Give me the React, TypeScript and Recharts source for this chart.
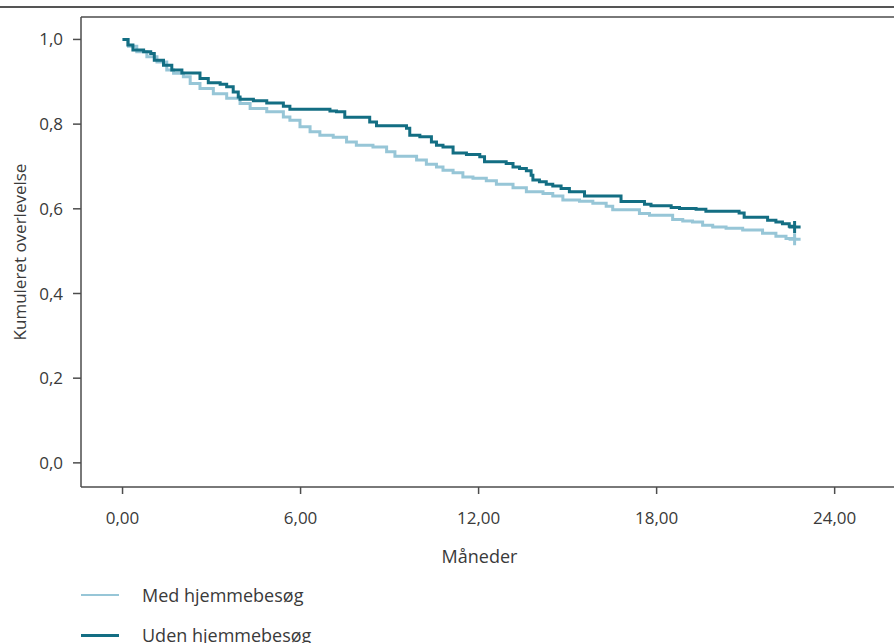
import React from 'react'
import {
  LineChart,
  Line,
  XAxis,
  YAxis,
  ReferenceLine
} from 'recharts'

// Kaplan-Meier steps (months, cumulative survival)
const medTimes = [
  0, 0.2, 0.48, 0.82, 1.16, 1.49, 1.72, 2.05, 2.28, 2.61, 3.06, 3.51, 3.96, 4.3, 4.86,
  5.42, 5.64, 5.98, 6.32, 6.65, 7.1, 7.55, 7.88, 8.44, 8.9, 9.18, 9.91, 10.24, 10.58,
  10.8, 11.14, 11.47, 11.81, 12.26, 12.6, 13.16, 13.61, 14.17, 14.5, 14.84, 15.4, 15.85,
  16.3, 16.52, 17.42, 17.76, 18.54, 18.88, 19.21, 19.55, 19.89, 20.34, 20.9, 21.57,
  22.02, 22.36, 22.65
]
const medSurvival = [
  1.0, 0.984, 0.971, 0.959, 0.947, 0.928, 0.92, 0.912, 0.896, 0.884, 0.872, 0.861, 0.849,
  0.837, 0.829, 0.817, 0.809, 0.794, 0.782, 0.774, 0.769, 0.758, 0.75, 0.746, 0.735,
  0.724, 0.715, 0.705, 0.699, 0.691, 0.685, 0.675, 0.672, 0.666, 0.658, 0.65, 0.64,
  0.636, 0.63, 0.621, 0.618, 0.613, 0.606, 0.598, 0.589, 0.585, 0.575, 0.571, 0.569,
  0.561, 0.557, 0.554, 0.55, 0.542, 0.535, 0.53, 0.528
]

const udenTimes = [
  0, 0.18, 0.35, 0.71, 0.95, 1.07, 1.38, 1.66, 2.0, 2.61, 2.89, 3.29, 3.51, 3.73, 3.9,
  3.96, 4.41, 4.86, 5.42, 5.64, 6.99, 7.21, 7.49, 8.33, 8.56, 9.57, 9.68, 10.02, 10.41,
  10.58, 10.8, 11.14, 11.59, 12.04, 12.2, 12.93, 13.16, 13.38, 13.61, 13.77, 13.83,
  14.05, 14.28, 14.5, 14.78, 15.06, 15.57, 16.8, 17.59, 17.81, 18.49, 18.77, 19.33,
  19.66, 20.78, 20.95, 21.74, 22.02, 22.24, 22.47, 22.65
]
const udenSurvival = [
  1.0, 0.987, 0.975, 0.971, 0.967, 0.951, 0.939, 0.928, 0.921, 0.908, 0.898, 0.894,
  0.888, 0.876, 0.864, 0.859, 0.855, 0.85, 0.842, 0.835, 0.831, 0.829, 0.816, 0.805,
  0.796, 0.79, 0.774, 0.77, 0.758, 0.75, 0.746, 0.732, 0.728, 0.723, 0.711, 0.707,
  0.699, 0.695, 0.69, 0.679, 0.668, 0.664, 0.658, 0.654, 0.648, 0.64, 0.63, 0.617,
  0.611, 0.607, 0.603, 0.601, 0.599, 0.594, 0.59, 0.58, 0.573, 0.569, 0.565, 0.559,
  0.557
]

const xTicks = [0, 6, 12, 18, 24]
const yTicks = [0, 0.2, 0.4, 0.6, 0.8, 1.0]
const seriesNames = ['Med hjemmebesøg', 'Uden hjemmebesøg']

const LIGHT = '#97c6d7'
const DARK = '#136e83'
const AXIS = '#4d4d4d'
const TEXT = '#3a3a3a'
const FONT = '"Open Sans", sans-serif'

const toPoints = (times: number[], values: number[]) =>
  times.map((t, i) => ({ t, s: values[i] }))

const medData = toPoints(medTimes, medSurvival)
const udenData = toPoints(udenTimes, udenSurvival)

// censor mark at the end of each curve
const censorDot = (color: string, last: number) => (props: any) => {
  const { cx, cy, index } = props
  if (index !== last) return <g key={`d-${index}`} />
  return (
    <path
      key={`d-${index}`}
      d={`M${cx - 6},${cy} H${cx + 6} M${cx},${cy - 6} V${cy + 6}`}
      stroke={color}
      strokeWidth={3}
      fill="none"
    />
  )
}

export default function App() {
  return (
    <div
      style={{
        position: 'absolute',
        left: 0,
        top: 0,
        width: 894,
        height: 643,
        background: '#fff',
        overflow: 'hidden',
        fontFamily: FONT
      }}
    >
      {/* rule under the (cropped) heading */}
      <div style={{ position: 'absolute', left: 0, top: 6, width: 894, height: 2, background: '#555' }} />

      <LineChart
        width={894}
        height={643}
        margin={{ top: 17, right: 0, left: 0, bottom: 0 }}
        style={{ position: 'absolute', left: 0, top: 0 }}
      >
        <XAxis
          dataKey="t"
          type="number"
          domain={[-1.4, 26]}
          ticks={xTicks}
          allowDataOverflow
          tickFormatter={(v: number) => v.toFixed(2).replace('.', ',')}
          tick={{ fontSize: 17, fill: TEXT, fontFamily: FONT }}
          tickSize={7}
          tickMargin={18}
          stroke={AXIS}
          strokeWidth={1.5}
          height={156}
          label={({ viewBox }: any) => (
            <text
              x={viewBox.x + viewBox.width / 2 - 8}
              y={viewBox.y + 76}
              textAnchor="middle"
              fontSize={18}
              fill={TEXT}
              fontFamily={FONT}
            >
              Måneder
            </text>
          )}
        />
        <YAxis
          dataKey="s"
          type="number"
          domain={[-0.057, 1.053]}
          ticks={yTicks}
          allowDataOverflow
          tickFormatter={(v: number) => v.toFixed(1).replace('.', ',')}
          tick={{ fontSize: 17, fill: TEXT, fontFamily: FONT }}
          tickSize={8}
          tickMargin={10}
          stroke={AXIS}
          strokeWidth={1.5}
          width={81}
          label={({ viewBox }: any) => (
            <text
              x={19}
              y={viewBox.y + viewBox.height / 2}
              transform={`rotate(-90, 19, ${viewBox.y + viewBox.height / 2})`}
              textAnchor="middle"
              dominantBaseline="central"
              fontSize={17}
              fill={TEXT}
              fontFamily={FONT}
            >
              Kumuleret overlevelse
            </text>
          )}
        />
        <ReferenceLine y={1.053} stroke={AXIS} strokeWidth={1.5} />
        <Line
          data={medData}
          dataKey="s"
          name={seriesNames[0]}
          type="stepAfter"
          stroke={LIGHT}
          strokeWidth={3}
          dot={censorDot(LIGHT, medData.length - 1)}
          activeDot={false}
          isAnimationActive={false}
        />
        <Line
          data={udenData}
          dataKey="s"
          name={seriesNames[1]}
          type="stepAfter"
          stroke={DARK}
          strokeWidth={3}
          dot={censorDot(DARK, udenData.length - 1)}
          activeDot={false}
          isAnimationActive={false}
        />
      </LineChart>

      {/* legend */}
      {seriesNames.map((name, i) => (
        <div
          key={name}
          style={{
            position: 'absolute',
            left: 81,
            top: 583 + i * 40,
            height: 24,
            display: 'flex',
            alignItems: 'center',
            color: TEXT,
            fontSize: 18
          }}
        >
          <span
            style={{
              display: 'inline-block',
              width: 38,
              height: i === 0 ? 2 : 3,
              background: i === 0 ? LIGHT : DARK,
              marginRight: 23
            }}
          />
          {name}
        </div>
      ))}
    </div>
  )
}
